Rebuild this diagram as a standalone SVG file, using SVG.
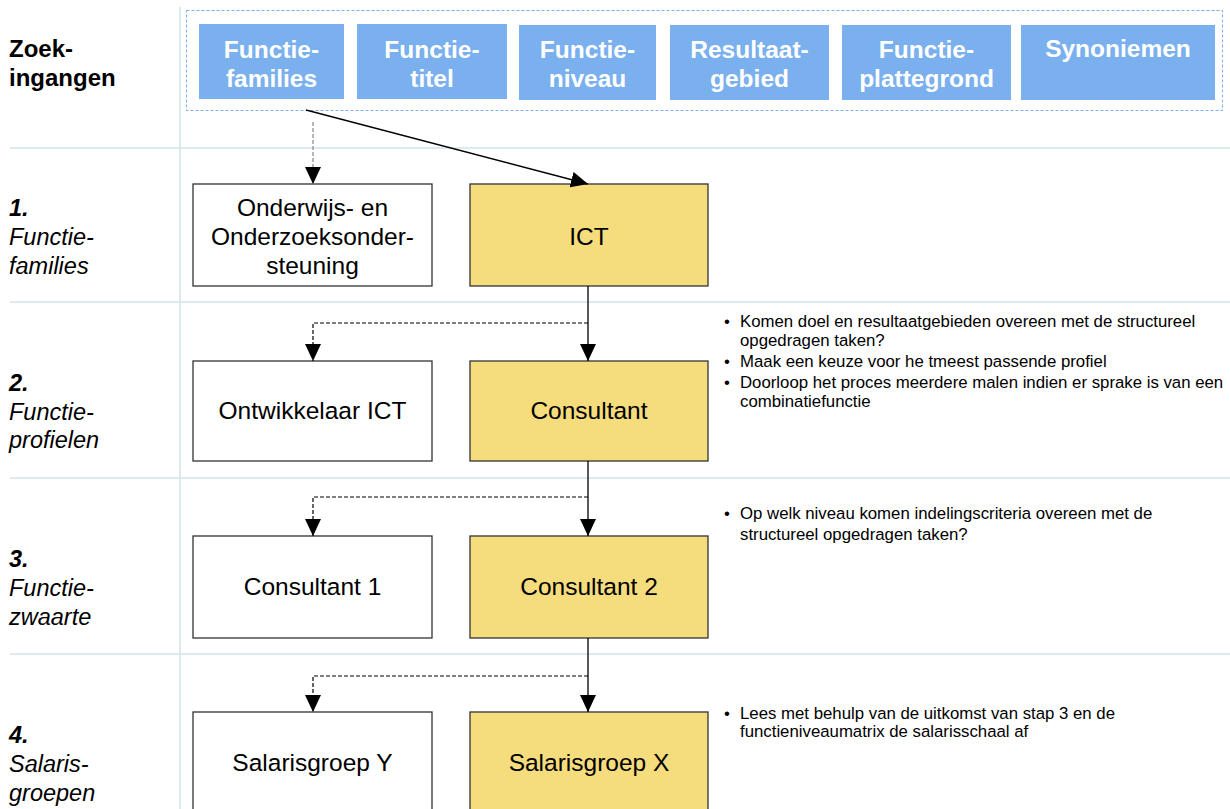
<svg xmlns="http://www.w3.org/2000/svg" width="1230" height="809" viewBox="0 0 1230 809">
<defs>
<marker id="ah" viewBox="0 0 17 16" refX="17" refY="8" markerWidth="17" markerHeight="16" markerUnits="userSpaceOnUse" orient="auto">
<path d="M0,0 L17,8 L0,16 Z" fill="#000"/>
</marker>
<style>
.grid{stroke:#d3e5e8;stroke-width:1.6;fill:none}
.entry rect{fill:#7ab0ee}
.entry text{fill:#fff;font-family:"Liberation Sans",Arial,sans-serif;font-weight:bold;font-size:24.5px;text-anchor:middle}
.node rect{stroke:#333;stroke-width:1.3}
.white rect{fill:#fff}
.yellow rect{fill:#f5dc7d}
.node text{font-family:"Liberation Sans",Arial,sans-serif;font-size:24.5px;text-anchor:middle;fill:#000}
.lbl{font-family:"Liberation Sans",Arial,sans-serif;font-size:23.5px;fill:#000;font-style:italic}
.lbl .n{font-weight:bold}
.hdr{font-family:"Liberation Sans",Arial,sans-serif;font-size:24px;font-weight:bold;fill:#000}
.note{font-family:"Liberation Sans",Arial,sans-serif;font-size:16.8px;fill:#000}
.solid{stroke:#000;stroke-width:1.3;fill:none}
.dash{stroke:#000;stroke-width:1.2;fill:none;stroke-dasharray:4 2}
</style>
</defs>
<rect width="1230" height="809" fill="#fff"/>
<g id="grid">
<line class="grid" x1="180" y1="7" x2="180" y2="809"/>
<line class="grid" x1="10" y1="148" x2="1230" y2="148"/>
<line class="grid" x1="10" y1="302" x2="1230" y2="302"/>
<line class="grid" x1="10" y1="478" x2="1230" y2="478"/>
<line class="grid" x1="10" y1="654" x2="1230" y2="654"/>
</g>
<g id="row-labels">
<text class="hdr" x="9" y="57">Zoek-</text>
<text class="hdr" x="9" y="86">ingangen</text>
<text class="lbl" x="9" y="216"><tspan class="n">1.</tspan><tspan x="9" y="245">Functie-</tspan><tspan x="9" y="274">families</tspan></text>
<text class="lbl" x="9" y="391"><tspan class="n">2.</tspan><tspan x="9" y="420">Functie-</tspan><tspan x="9" y="448">profielen</tspan></text>
<text class="lbl" x="9" y="567"><tspan class="n">3.</tspan><tspan x="9" y="596">Functie-</tspan><tspan x="9" y="625">zwaarte</tspan></text>
<text class="lbl" x="9" y="743"><tspan class="n">4.</tspan><tspan x="9" y="772">Salaris-</tspan><tspan x="9" y="801">groepen</tspan></text>
</g>
<g id="zoekingangen">
<rect x="186.5" y="10.5" width="1036" height="100" fill="none" stroke="#7ab0ee" stroke-width="1" stroke-dasharray="3 2"/>
<g id="e1" class="entry"><rect x="199" y="24" width="145" height="75"/><text x="271.5" y="58">Functie-</text><text x="271.5" y="87">families</text></g>
<g id="e2" class="entry"><rect x="357" y="24" width="150" height="75"/><text x="432" y="58">Functie-</text><text x="432" y="87">titel</text></g>
<g id="e3" class="entry"><rect x="519" y="25" width="137" height="75"/><text x="587.5" y="58">Functie-</text><text x="587.5" y="87">niveau</text></g>
<g id="e4" class="entry"><rect x="670" y="25" width="159" height="75"/><text x="749.5" y="58">Resultaat-</text><text x="749.5" y="87">gebied</text></g>
<g id="e5" class="entry"><rect x="842" y="25" width="169" height="75"/><text x="926.5" y="58">Functie-</text><text x="926.5" y="87">plattegrond</text></g>
<g id="e6" class="entry"><rect x="1021" y="25" width="194" height="75"/><text x="1118" y="57">Synoniemen</text></g>
</g>
<g id="n-onderwijs" class="node white"><rect x="193" y="184" width="239" height="102"/><text x="312.5" y="216">Onderwijs- en</text><text x="312.5" y="245">Onderzoeksonder-</text><text x="312.5" y="274">steuning</text></g>
<g id="n-ict" class="node yellow"><rect x="470" y="184" width="238" height="102"/><text x="589" y="245">ICT</text></g>
<g id="n-ontwikkelaar" class="node white"><rect x="193" y="361" width="239" height="100"/><text x="312.5" y="419">Ontwikkelaar ICT</text></g>
<g id="n-consultant" class="node yellow"><rect x="470" y="361" width="238" height="100"/><text x="589" y="419">Consultant</text></g>
<g id="n-consultant1" class="node white"><rect x="193" y="536" width="239" height="102"/><text x="312.5" y="595">Consultant 1</text></g>
<g id="n-consultant2" class="node yellow"><rect x="470" y="536" width="238" height="102"/><text x="589" y="595">Consultant 2</text></g>
<g id="n-salY" class="node white"><rect x="193" y="712" width="239" height="110"/><text x="312.5" y="771">Salarisgroep Y</text></g>
<g id="n-salX" class="node yellow"><rect x="470" y="712" width="238" height="110"/><text x="589" y="771">Salarisgroep X</text></g>
<g id="notes">
<g class="note">
<text x="724" y="327">•</text><text x="740" y="327">Komen doel en resultaatgebieden overeen met de structureel</text>
<text x="740" y="346">opgedragen taken?</text>
<text x="724" y="367">•</text><text x="740" y="367">Maak een keuze voor he tmeest passende profiel</text>
<text x="724" y="388">•</text><text x="740" y="388">Doorloop het proces meerdere malen indien er sprake is van een</text>
<text x="740" y="407">combinatiefunctie</text>
<text x="724" y="519">•</text><text x="740" y="519">Op welk niveau komen indelingscriteria overeen met de</text>
<text x="740" y="540">structureel opgedragen taken?</text>
<text x="724" y="719">•</text><text x="740" y="719">Lees met behulp van de uitkomst van stap 3 en de</text>
<text x="740" y="737">functieniveaumatrix de salarisschaal af</text>
</g>
</g>
<g id="connectors">
<line x1="313" y1="122" x2="313" y2="184" stroke="#888" stroke-width="1.2" stroke-dasharray="4 2" marker-end="url(#ah)"/>
<line class="solid" x1="306" y1="110" x2="588" y2="184" marker-end="url(#ah)"/>
<line class="solid" x1="588" y1="286" x2="588" y2="361" marker-end="url(#ah)"/>
<polyline class="dash" points="588,323 313,323 313,361" marker-end="url(#ah)"/>
<line class="solid" x1="588" y1="461" x2="588" y2="536" marker-end="url(#ah)"/>
<polyline class="dash" points="588,497 313,497 313,536" marker-end="url(#ah)"/>
<line class="solid" x1="588" y1="638" x2="588" y2="712" marker-end="url(#ah)"/>
<polyline class="dash" points="588,676 313,676 313,712" marker-end="url(#ah)"/>
</g>
</svg>
